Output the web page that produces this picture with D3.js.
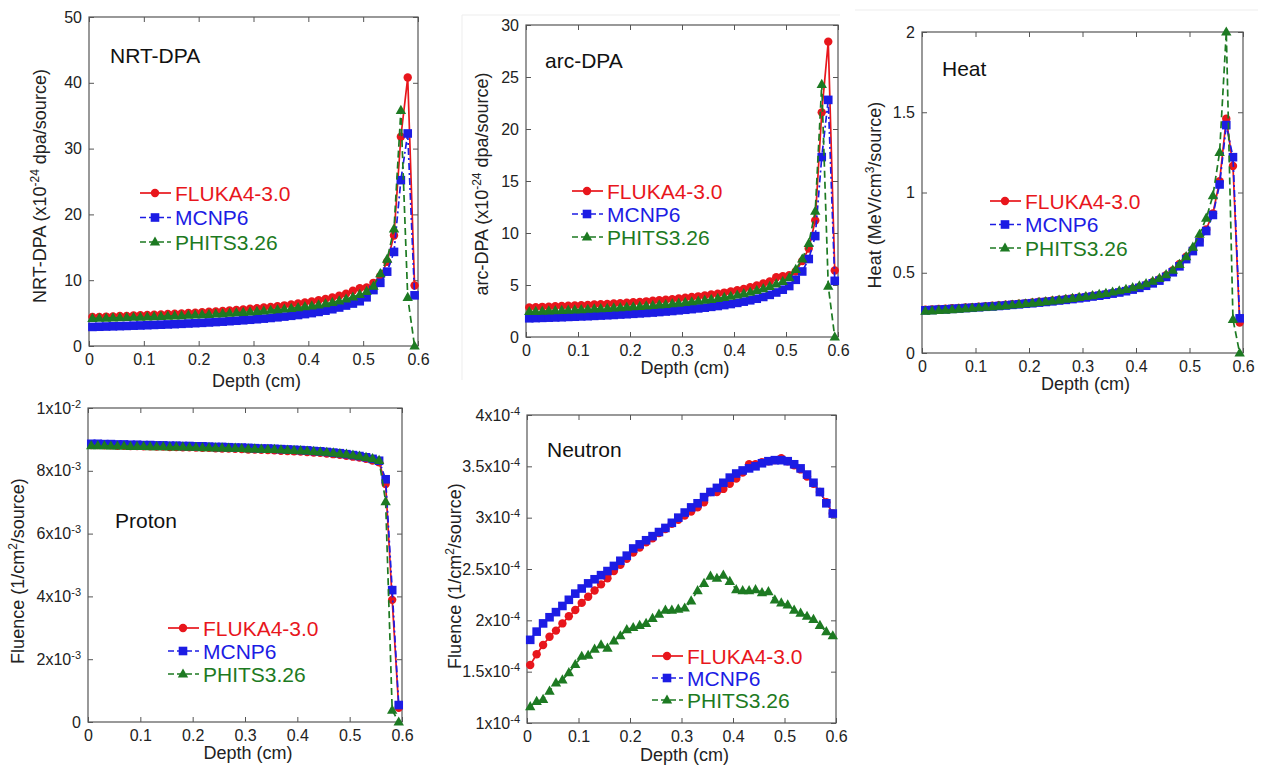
<!DOCTYPE html>
<html>
<head>
<meta charset="utf-8">
<script src="https://cdn.jsdelivr.net/npm/d3@7"></script>
<style>
body { margin: 0; background: #fff; }
svg { display: block; font-family: "Liberation Sans", Arial, sans-serif; }
</style>
</head>
<body>
<svg id="svg" width="1263" height="767"></svg>
<script>
// bin centres (cm)
const depth = [0.00625, 0.01875, 0.03125, 0.04375, 0.05625, 0.06875, 0.08125, 0.09375, 0.10625, 0.11875,
    0.13125, 0.14375, 0.15625, 0.16875, 0.18125, 0.19375, 0.20625, 0.21875, 0.23125, 0.24375,
    0.25625, 0.26875, 0.28125, 0.29375, 0.30625, 0.31875, 0.33125, 0.34375, 0.35625, 0.36875,
    0.38125, 0.39375, 0.40625, 0.41875, 0.43125, 0.44375, 0.45625, 0.46875, 0.48125, 0.49375,
    0.50625, 0.51875, 0.53125, 0.54375, 0.55625, 0.56875, 0.58125, 0.59375];

const codes = ["FLUKA4-3.0", "MCNP6", "PHITS3.26"];

const xTicks = [0, 0.1, 0.2, 0.3, 0.4, 0.5, 0.6];
const xTickLabels = ["0", "0.1", "0.2", "0.3", "0.4", "0.5", "0.6"];

// NRT-DPA (x1e-24 dpa/source)
const nrtFluka = [4.4, 4.43, 4.47, 4.5, 4.55, 4.58, 4.63, 4.67, 4.71, 4.76,
    4.8, 4.86, 4.9, 4.96, 5.02, 5.07, 5.13, 5.2, 5.26, 5.33,
    5.41, 5.48, 5.57, 5.65, 5.74, 5.84, 5.94, 6.06, 6.18, 6.3,
    6.45, 6.6, 6.76, 6.95, 7.15, 7.38, 7.64, 7.95, 8.4, 8.8,
    8.9, 9.6, 10.6, 12.8, 16.8, 31.8, 40.8, 9.2];
const nrtMcnp = [2.9, 2.93, 2.96, 2.99, 3.02, 3.05, 3.09, 3.12, 3.16, 3.2,
    3.24, 3.28, 3.32, 3.37, 3.42, 3.47, 3.52, 3.58, 3.64, 3.7,
    3.77, 3.84, 3.91, 3.99, 4.07, 4.16, 4.26, 4.36, 4.47, 4.59,
    4.71, 4.85, 5.0, 5.18, 5.37, 5.59, 5.85, 6.15, 6.45, 6.8,
    7.4, 8.5, 9.6, 11.3, 14.3, 25.2, 32.3, 7.7];
const nrtPhits = [4.2, 4.22, 4.25, 4.28, 4.31, 4.34, 4.37, 4.4, 4.44, 4.47,
    4.51, 4.55, 4.59, 4.63, 4.68, 4.72, 4.77, 4.82, 4.87, 4.93,
    4.99, 5.05, 5.12, 5.19, 5.26, 5.34, 5.43, 5.52, 5.62, 5.73,
    5.84, 5.97, 6.11, 6.26, 6.44, 6.64, 6.87, 7.14, 7.45, 7.85,
    8.3, 9.1, 11.0, 13.2, 17.8, 35.8, 7.4, 0];
const nrtYTicks = [0, 10, 20, 30, 40, 50];
const nrtYLabels = ["0", "10", "20", "30", "40", "50"];

// arc-DPA (x1e-24 dpa/source)
const arcFluka = [2.85, 2.87, 2.9, 2.92, 2.95, 2.98, 3.0, 3.03, 3.06, 3.09,
    3.12, 3.15, 3.18, 3.22, 3.26, 3.3, 3.34, 3.38, 3.43, 3.48,
    3.53, 3.58, 3.64, 3.7, 3.77, 3.84, 3.91, 3.99, 4.08, 4.17,
    4.27, 4.38, 4.5, 4.63, 4.78, 4.95, 5.14, 5.35, 5.75, 5.85,
    5.95, 6.3, 7.3, 8.5, 11.2, 21.6, 28.4, 6.4];
const arcMcnp = [1.8, 1.82, 1.84, 1.86, 1.88, 1.9, 1.93, 1.95, 1.98, 2.0,
    2.03, 2.06, 2.09, 2.12, 2.16, 2.19, 2.23, 2.27, 2.31, 2.35,
    2.4, 2.45, 2.5, 2.56, 2.62, 2.68, 2.75, 2.82, 2.9, 2.98,
    3.07, 3.17, 3.28, 3.4, 3.53, 3.68, 3.85, 4.05, 4.28, 4.55,
    4.9, 5.5, 6.3, 7.5, 9.7, 17.3, 22.8, 5.4];
const arcPhits = [2.45, 2.47, 2.49, 2.52, 2.54, 2.56, 2.59, 2.61, 2.64, 2.67,
    2.7, 2.73, 2.76, 2.8, 2.83, 2.87, 2.91, 2.95, 2.99, 3.04,
    3.09, 3.14, 3.2, 3.26, 3.32, 3.39, 3.46, 3.54, 3.62, 3.71,
    3.81, 3.92, 4.04, 4.17, 4.32, 4.48, 4.66, 4.86, 5.1, 5.35,
    5.7, 6.5, 7.5, 9.0, 12.1, 24.3, 4.9, 0];
const arcYTicks = [0, 5, 10, 15, 20, 25, 30];
const arcYLabels = ["0", "5", "10", "15", "20", "25", "30"];

// Heat (MeV/cm3/source)
const heatFluka = [0.27, 0.272, 0.274, 0.276, 0.279, 0.281, 0.284, 0.286, 0.289, 0.292,
    0.295, 0.298, 0.301, 0.304, 0.307, 0.311, 0.315, 0.319, 0.323, 0.327,
    0.332, 0.336, 0.341, 0.346, 0.351, 0.357, 0.362, 0.368, 0.374, 0.381,
    0.39, 0.4, 0.412, 0.426, 0.442, 0.46, 0.485, 0.515, 0.555, 0.6,
    0.645, 0.7, 0.77, 0.87, 1.07, 1.46, 1.165, 0.19];
const heatMcnp = [0.266, 0.268, 0.27, 0.272, 0.275, 0.277, 0.28, 0.282, 0.285, 0.288,
    0.29, 0.293, 0.296, 0.3, 0.303, 0.307, 0.31, 0.314, 0.318, 0.322,
    0.327, 0.331, 0.336, 0.341, 0.346, 0.352, 0.357, 0.363, 0.37, 0.377,
    0.385, 0.395, 0.406, 0.419, 0.434, 0.451, 0.474, 0.503, 0.54, 0.585,
    0.635, 0.69, 0.76, 0.86, 1.05, 1.42, 1.22, 0.216];
const heatPhits = [0.26, 0.262, 0.265, 0.267, 0.27, 0.273, 0.276, 0.279, 0.282, 0.285,
    0.288, 0.292, 0.295, 0.299, 0.303, 0.307, 0.311, 0.315, 0.32, 0.325,
    0.33, 0.335, 0.34, 0.346, 0.352, 0.358, 0.365, 0.372, 0.38, 0.388,
    0.397, 0.407, 0.419, 0.432, 0.447, 0.465, 0.488, 0.516, 0.552, 0.6,
    0.66, 0.74, 0.84, 0.98, 1.25, 2.0, 0.21, 0];
const heatYTicks = [0, 0.5, 1, 1.5, 2];
const heatYLabels = ["0", "0.5", "1", "1.5", "2"];

// Proton fluence, read in units of 1e-3 /cm2/source
const protonFluka = [8.82, 8.82, 8.81, 8.81, 8.8, 8.8, 8.79, 8.79, 8.78, 8.78,
    8.77, 8.77, 8.76, 8.76, 8.75, 8.75, 8.74, 8.73, 8.73, 8.72,
    8.71, 8.71, 8.7, 8.69, 8.68, 8.68, 8.67, 8.66, 8.65, 8.64,
    8.63, 8.62, 8.61, 8.6, 8.58, 8.57, 8.55, 8.53, 8.51, 8.48,
    8.45, 8.42, 8.38, 8.33, 8.27, 7.58, 3.89, 0.45];
const protonMcnp = [8.86, 8.86, 8.85, 8.85, 8.84, 8.84, 8.83, 8.83, 8.82, 8.82,
    8.81, 8.81, 8.8, 8.8, 8.79, 8.79, 8.78, 8.78, 8.77, 8.76,
    8.76, 8.75, 8.74, 8.74, 8.73, 8.72, 8.71, 8.71, 8.7, 8.69,
    8.68, 8.67, 8.66, 8.65, 8.63, 8.62, 8.6, 8.58, 8.56, 8.53,
    8.5, 8.47, 8.43, 8.38, 8.32, 7.73, 4.2, 0.54];
const protonPhits = [8.8, 8.8, 8.8, 8.79, 8.79, 8.79, 8.78, 8.78, 8.78, 8.77,
    8.77, 8.77, 8.76, 8.76, 8.76, 8.75, 8.75, 8.74, 8.74, 8.73,
    8.73, 8.72, 8.72, 8.71, 8.7, 8.7, 8.69, 8.68, 8.68, 8.67,
    8.66, 8.65, 8.64, 8.63, 8.62, 8.6, 8.59, 8.57, 8.55, 8.53,
    8.5, 8.47, 8.43, 8.39, 8.33, 7.02, 0.38, 0];
const protonYTicks = [0, 0.002, 0.004, 0.006, 0.008, 0.01];
const protonYLabels = ["0", "2x10^-3", "4x10^-3", "6x10^-3", "8x10^-3", "1x10^-2"];

// Neutron fluence, read in units of 1e-4 /cm2/source
const neutronFluka = [1.565, 1.67, 1.76, 1.84, 1.9, 1.97, 2.04, 2.1, 2.17, 2.23,
    2.29, 2.35, 2.41, 2.48, 2.54, 2.6, 2.66, 2.71, 2.76, 2.8,
    2.85, 2.89, 2.94, 2.98, 3.02, 3.06, 3.1, 3.15, 3.25, 3.25,
    3.28, 3.33, 3.38, 3.44, 3.52, 3.52, 3.54, 3.55, 3.56, 3.58,
    3.55, 3.51, 3.47, 3.4, 3.33, 3.25, 3.15, 3.04];
const neutronMcnp = [1.81, 1.89, 1.97, 2.03, 2.08, 2.14, 2.2, 2.26, 2.31, 2.36,
    2.4, 2.44, 2.48, 2.53, 2.58, 2.63, 2.7, 2.74, 2.78, 2.82,
    2.86, 2.9, 2.95, 3.0, 3.05, 3.1, 3.14, 3.2, 3.25, 3.29,
    3.34, 3.39, 3.43, 3.46, 3.48, 3.5, 3.53, 3.55, 3.56, 3.56,
    3.55, 3.52, 3.48, 3.42, 3.34, 3.25, 3.14, 3.04];
const neutronPhits = [1.16, 1.21, 1.23, 1.31, 1.39, 1.42, 1.49, 1.57, 1.65, 1.66,
    1.72, 1.76, 1.73, 1.8, 1.85, 1.91, 1.93, 1.95, 1.97, 2.02,
    2.06, 2.1, 2.1, 2.11, 2.12, 2.19, 2.29, 2.36, 2.43, 2.41,
    2.44, 2.38, 2.3, 2.29, 2.29, 2.3, 2.27, 2.28, 2.2, 2.17,
    2.15, 2.1, 2.07, 2.04, 2.01, 1.95, 1.89, 1.85];
const neutronYTicks = [1e-4, 1.5e-4, 2e-4, 2.5e-4, 3e-4, 3.5e-4, 4e-4];
const neutronYLabels = ["1x10^-4", "1.5x10^-4", "2x10^-4", "2.5x10^-4", "3x10^-4", "3.5x10^-4", "4x10^-4"];

const colors = ["#e8161c", "#1c1ce4", "#1d7a22"];
const dashes = [null, "7,3,2,3", "7,4"];

const panels = [
    { title: "NRT-DPA", series: [nrtFluka, nrtMcnp, nrtPhits], unit: 1,
      box: [89, 17, 418, 346], yDomain: [0, 50], yTicks: nrtYTicks, yLabels: nrtYLabels,
      yTitle: ["NRT-DPA (x10", "-24", " dpa/source)"], yTitleX: 40, yTitleY: 186, xTitleY: 381,
      titlePos: [110, 63], legend: [140, 193, 24.5] },
    { title: "arc-DPA", series: [arcFluka, arcMcnp, arcPhits], unit: 1,
      box: [526, 25, 838, 337], yDomain: [0, 30], yTicks: arcYTicks, yLabels: arcYLabels,
      yTitle: ["arc-DPA (x10", "-24", " dpa/source)"], yTitleX: 482, yTitleY: 184, xTitleY: 368,
      titlePos: [545, 68], legend: [572, 191, 23] },
    { title: "Heat", series: [heatFluka, heatMcnp, heatPhits], unit: 1,
      box: [922, 32, 1243, 353], yDomain: [0, 2], yTicks: heatYTicks, yLabels: heatYLabels,
      yTitle: ["Heat (MeV/cm", "3", "/source)"], yTitleX: 875, yTitleY: 195, xTitleY: 384,
      titlePos: [942, 76], legend: [990, 201, 23.5] },
    { title: "Proton", series: [protonFluka, protonMcnp, protonPhits], unit: 1e-3,
      box: [88, 408, 402, 722], yDomain: [0, 0.01], yTicks: protonYTicks, yLabels: protonYLabels,
      yTitle: ["Fluence (1/cm", "2", "/source)"], yTitleX: 18, yTitleY: 571, xTitleY: 753,
      titlePos: [115, 528], legend: [168, 628, 23] },
    { title: "Neutron", series: [neutronFluka, neutronMcnp, neutronPhits], unit: 1e-4,
      box: [527, 415, 836, 723], yDomain: [1e-4, 4e-4], yTicks: neutronYTicks, yLabels: neutronYLabels,
      yTitle: ["Fluence (1/cm", "2", "/source)"], yTitleX: 455, yTitleY: 576, xTitleY: 755,
      titlePos: [547, 457], legend: [652, 656, 22] }
];

const svg = d3.select("#svg");

// faint edges of the pasted images
svg.append("path").attr("d", "M462,15H840M462,15V380M855,10H1258")
    .attr("stroke", "#ededed").attr("fill", "none");

function drawMarker(sel, k, cx, cy) {
    if (k === 0) {
        sel.append("circle").attr("cx", cx).attr("cy", cy).attr("r", 4.2).attr("fill", colors[0]);
    } else if (k === 1) {
        sel.append("rect").attr("x", cx - 4.3).attr("y", cy - 4.3).attr("width", 8.6).attr("height", 8.6).attr("fill", colors[1]);
    } else {
        sel.append("path").attr("d", `M${cx},${cy - 5.6}L${cx + 5.2},${cy + 3.6}L${cx - 5.2},${cy + 3.6}Z`).attr("fill", colors[2]);
    }
}

function supText(t, s) {
    t.text(null);
    const parts = s.split("^");
    t.append("tspan").text(parts[0]);
    if (parts[1]) t.append("tspan").attr("dy", -6).attr("font-size", 11).text(parts[1]);
}

function styleAxis(sel) {
    sel.select(".domain").remove();
    sel.selectAll("line").attr("stroke", "#555").attr("stroke-width", 1);
    sel.selectAll("text").attr("font-size", 16).attr("fill", "#222")
        .attr("font-family", "Liberation Sans, Arial, sans-serif");
}

panels.forEach(p => {
    const [l, t, r, b] = p.box;
    const x = d3.scaleLinear().domain([0, 0.6]).range([l, r]);
    const y = d3.scaleLinear().domain(p.yDomain).range([b, t]);
    const g = svg.append("g");

    g.append("g").attr("transform", `translate(0,${b})`)
        .call(d3.axisBottom(x).tickValues(xTicks).tickSize(-5).tickPadding(8)
            .tickFormat((d, i) => xTickLabels[i]))
        .call(styleAxis);
    g.append("g").attr("transform", `translate(0,${t})`)
        .call(d3.axisTop(x).tickValues(xTicks).tickSize(-5).tickFormat(""))
        .call(styleAxis);
    g.append("g").attr("transform", `translate(${l},0)`)
        .call(d3.axisLeft(y).tickValues(p.yTicks).tickSize(-5).tickPadding(7)
            .tickFormat((d, i) => p.yLabels[i]))
        .call(styleAxis)
        .selectAll("text").each(function(d, i) { supText(d3.select(this), p.yLabels[i]); });
    g.append("g").attr("transform", `translate(${r},0)`)
        .call(d3.axisRight(y).tickValues(p.yTicks).tickSize(-5).tickFormat(""))
        .call(styleAxis);

    g.append("rect").attr("x", l).attr("y", t).attr("width", r - l).attr("height", b - t)
        .attr("fill", "none").attr("stroke", "#555").attr("stroke-width", 1.2);

    // series
    p.series.forEach((vals, k) => {
        const line = d3.line().x((d, i) => x(depth[i])).y(d => y(d * p.unit));
        g.append("path").datum(vals).attr("d", line)
            .attr("fill", "none").attr("stroke", colors[k]).attr("stroke-width", 1.7)
            .attr("stroke-dasharray", dashes[k]);
        const mg = g.append("g");
        vals.forEach((v, i) => drawMarker(mg, k, x(depth[i]), y(v * p.unit)));
    });

    // panel label
    g.append("text").attr("x", p.titlePos[0]).attr("y", p.titlePos[1])
        .attr("font-size", 21).attr("fill", "#111").text(p.title);

    // axis titles
    g.append("text").attr("x", (l + r) / 2 + 3).attr("y", p.xTitleY).attr("dy", "0.35em")
        .attr("text-anchor", "middle").attr("font-size", 18).attr("fill", "#222").text("Depth (cm)");
    const yt = g.append("text")
        .attr("transform", `translate(${p.yTitleX},${p.yTitleY}) rotate(-90)`)
        .attr("dy", "0.35em").attr("text-anchor", "middle").attr("font-size", 18).attr("fill", "#222");
    yt.append("tspan").text(p.yTitle[0]);
    yt.append("tspan").attr("dy", -7).attr("font-size", 12).text(p.yTitle[1]);
    yt.append("tspan").attr("dy", 7).text(p.yTitle[2]);

    // legend
    const [lx, ly, step] = p.legend;
    codes.forEach((c, k) => {
        const yy = ly + k * step;
        g.append("line").attr("x1", lx).attr("x2", lx + 31).attr("y1", yy).attr("y2", yy)
            .attr("stroke", colors[k]).attr("stroke-width", 1.7).attr("stroke-dasharray", dashes[k] ? "6,3" : null);
        drawMarker(g, k, lx + 15, yy);
        g.append("text").attr("x", lx + 35).attr("y", yy).attr("dy", "0.36em")
            .attr("font-size", 21).attr("fill", colors[k]).text(c);
    });
});
</script>
</body>
</html>
